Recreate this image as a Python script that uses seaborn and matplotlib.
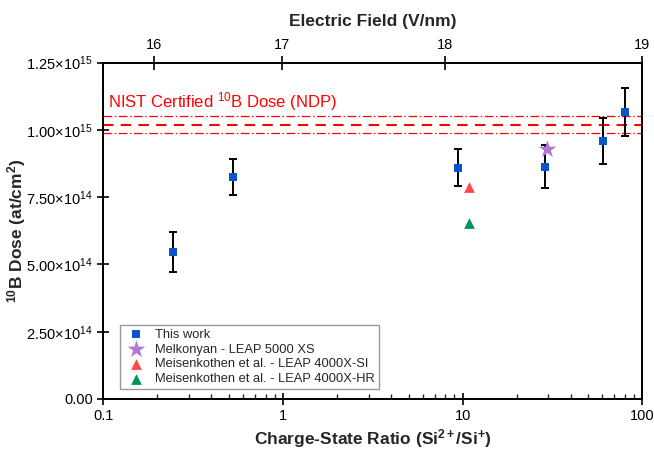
import numpy as np
import pandas as pd
import matplotlib
matplotlib.use("Agg")
import matplotlib.pyplot as plt
import matplotlib.ticker as mticker
import seaborn as sns

# --- data -------------------------------------------------------------
# This work: charge-state ratio, 10B dose and uncertainty
this_ratio = [0.245, 0.524, 9.47, 28.8, 60.5, 79.8]
this_dose = [5.46e14, 8.25e14, 8.60e14, 8.64e14, 9.59e14, 1.068e15]
this_err = [0.73e14, 0.68e14, 0.70e14, 0.79e14, 0.87e14, 0.89e14]

# Literature values
melk_ratio = [29.4]
melk_dose = [9.30e14]
meis_si_ratio = [10.9]
meis_si_dose = [7.88e14]
meis_hr_ratio = [10.9]
meis_hr_dose = [6.56e14]

# NIST certified dose and its uncertainty band
nist_dose = 1.02e15
nist_unc = 0.033e15

# Electric field ticks (top axis) and their charge-state ratio positions
field_ticks = [16, 17, 18, 19]
field_tick_ratio = [0.192, 0.99, 7.94, 99.0]

y_ticks = [0.0, 2.5e14, 5.0e14, 7.5e14, 1.0e15, 1.25e15]
y_tick_labels = ["0.00", r"$2.50{\times}10^{14}$", r"$5.00{\times}10^{14}$",
                 r"$7.50{\times}10^{14}$", r"$1.00{\times}10^{15}$",
                 r"$1.25{\times}10^{15}$"]

# --- style ------------------------------------------------------------
sns.set_theme(style="ticks")
plt.rcParams.update({
    "font.family": ["Liberation Sans", "DejaVu Sans"],
    "mathtext.fontset": "custom",
    "mathtext.rm": "Liberation Sans",
    "mathtext.it": "Liberation Sans:italic",
    "mathtext.bf": "Liberation Sans:bold",
    "axes.linewidth": 1.3,
    "axes.edgecolor": "black",
})

fig = plt.figure(figsize=(6.54, 4.51), dpi=100)
ax = fig.add_axes([103.3 / 654, 1 - 399 / 451, (642.3 - 103.3) / 654, (399 - 62.7) / 451])

blue = "#0A55C8"
purple = "#B478D4"
red = "#FF4848"
green = "#009658"

# NIST reference lines
ax.axhline(nist_dose, color="red", lw=1.5, ls=(0, (5, 3.5)), zorder=1)
ax.axhline(nist_dose + nist_unc, color="red", lw=0.9, ls=(0, (7, 2, 1.2, 2)), zorder=1)
ax.axhline(nist_dose - nist_unc, color="red", lw=0.9, ls=(0, (7, 2, 1.2, 2)), zorder=1)
ax.text(0.106, 1.105e15, r"NIST Certified $^{10}$B Dose (NDP)", color="red",
        fontsize=12, va="center", ha="left")

# error bars for this work
ax.errorbar(this_ratio, this_dose, yerr=this_err, fmt="none", ecolor="black",
            elinewidth=1.4, capsize=3.2, capthick=1.4, zorder=2)

df_this = pd.DataFrame({"ratio": this_ratio, "dose": this_dose})
df_melk = pd.DataFrame({"ratio": melk_ratio, "dose": melk_dose})
df_si = pd.DataFrame({"ratio": meis_si_ratio, "dose": meis_si_dose})
df_hr = pd.DataFrame({"ratio": meis_hr_ratio, "dose": meis_hr_dose})

sns.scatterplot(data=df_this, x="ratio", y="dose", ax=ax, marker="s", s=40,
                color=blue, edgecolor=blue, linewidth=0, label="This work", zorder=3)
sns.scatterplot(data=df_melk, x="ratio", y="dose", ax=ax, marker="*", s=180,
                color=purple, edgecolor=purple, linewidth=0,
                label="Melkonyan - LEAP 5000 XS", zorder=4)
sns.scatterplot(data=df_si, x="ratio", y="dose", ax=ax, marker="^", s=60,
                color=red, edgecolor=red, linewidth=0,
                label="Meisenkothen et al. - LEAP 4000X-SI", zorder=3)
sns.scatterplot(data=df_hr, x="ratio", y="dose", ax=ax, marker="^", s=60,
                color=green, edgecolor=green, linewidth=0,
                label="Meisenkothen et al. - LEAP 4000X-HR", zorder=3)

# --- axes -------------------------------------------------------------
ax.set_xscale("log")
ax.set_xlim(0.1, 100)
ax.set_ylim(0, 1.25e15)
ax.set_xticks([0.1, 1, 10, 100])
ax.set_xticklabels(["0.1", "1", "10", "100"])
ax.xaxis.set_minor_locator(mticker.LogLocator(base=10, subs=np.arange(2, 10)))
ax.xaxis.set_minor_formatter(mticker.NullFormatter())
ax.set_yticks(y_ticks)
ax.set_yticklabels(y_tick_labels)
ax.tick_params(axis="both", which="major", direction="inout", length=9, width=1.2,
               labelsize=10.5, colors="black", pad=3)
ax.tick_params(axis="x", which="minor", direction="in", length=3.5, width=1.0)
ax.set_xlabel(r"Charge-State Ratio (Si$^{\mathbf{2+}}$/Si$^{\mathbf{+}}$)",
              fontsize=12.5, fontweight="bold")
ax.xaxis.set_label_coords(0.5, -0.084)
ax.set_ylabel(r"$^{\mathbf{10}}$B Dose (at/cm$^{\mathbf{2}}$)",
              fontsize=12.5, fontweight="bold")
ax.yaxis.set_label_coords(-0.139, 0.5)
for sp in ax.spines.values():
    sp.set_visible(True)
    sp.set_color("black")

# top axis: electric field
top = ax.twiny()
top.set_xscale("log")
top.set_xlim(ax.get_xlim())
top.set_xticks(field_tick_ratio)
top.set_xticklabels([str(t) for t in field_ticks])
top.xaxis.set_minor_locator(mticker.NullLocator())
top.tick_params(axis="x", which="major", direction="inout", length=10, width=1.2,
                labelsize=10.5, colors="black", pad=3)
top.set_xlabel("Electric Field (V/nm)", fontsize=12.5, fontweight="bold", labelpad=8)
for sp in top.spines.values():
    sp.set_color("black")

leg = ax.legend(loc="lower left", bbox_to_anchor=(0.031, 0.029), frameon=True,
                fancybox=False, edgecolor="#808080", fontsize=9.3,
                handletextpad=0.6, borderpad=0.3, labelspacing=0.22,
                borderaxespad=0, handlelength=1.8, markerscale=1.0)
leg.get_frame().set_linewidth(1.0)

fig.savefig("out.png", dpi=100)
